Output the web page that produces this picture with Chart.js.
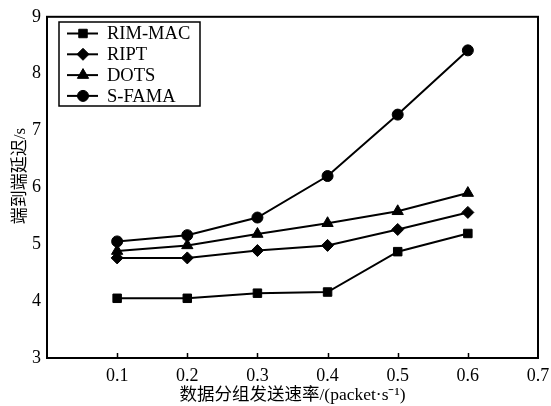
<!DOCTYPE html>
<html>
<head>
<meta charset="utf-8">
<script src="https://cdn.jsdelivr.net/npm/chart.js@4.4.1/dist/chart.umd.min.js"></script>
<style>
  html, body { margin: 0; padding: 0; background: #fff; }
  canvas { display: block; }
</style>
</head>
<body>
<canvas id="c" width="551" height="406"></canvas>
<script>
// Packet send rate (packet/s) on the x axis
const rates = [0.1, 0.2, 0.3, 0.4, 0.5, 0.6];

// End-to-end delay (s) per protocol
const rimMac = [4.05, 4.05, 4.14, 4.16, 4.87, 5.19];
const ript   = [4.76, 4.76, 4.89, 4.98, 5.26, 5.56];
const dots   = [4.88, 4.98, 5.18, 5.37, 5.58, 5.90];
const sFama  = [5.05, 5.16, 5.47, 6.20, 7.28, 8.41];

const seriesNames = ['RIM-MAC', 'RIPT', 'DOTS', 'S-FAMA'];
const seriesValues = [rimMac, ript, dots, sFama];
const markerStyles = ['rect', 'rectRot', 'triangle', 'circle'];
const markerSizes = [6, 6, 6.5, 5.5];

const xTitle = '数据分组发送速率/(packet·s⁻¹)';
const yTitle = '端到端延迟/s';

const serif = '"Liberation Serif", "Times New Roman", "Noto Sans CJK SC", serif';

const datasets = seriesNames.map((name, i) => ({
  label: name,
  data: rates.map((r, j) => ({ x: r, y: seriesValues[i][j] })),
  borderColor: '#000',
  backgroundColor: '#000',
  borderWidth: 2,
  pointStyle: markerStyles[i],
  pointRadius: markerSizes[i],
  pointBackgroundColor: '#000',
  pointBorderColor: '#000',
  pointBorderWidth: 1,
  tension: 0
}));

// Frame around the plot, inward x ticks, the y-axis title and the boxed legend
const framePlugin = {
  id: 'frame',
  afterDraw(chart) {
    const { ctx, chartArea: a, scales } = chart;
    ctx.save();
    ctx.strokeStyle = '#000';
    ctx.fillStyle = '#000';
    ctx.lineWidth = 2;
    ctx.strokeRect(a.left, a.top, a.right - a.left, a.bottom - a.top);

    // short tick marks pointing up from the bottom axis
    ctx.lineWidth = 1.5;
    rates.forEach(v => {
      const px = Math.round(scales.x.getPixelForValue(v)) + 0.5;
      ctx.beginPath();
      ctx.moveTo(px, a.bottom);
      ctx.lineTo(px, a.bottom - 5);
      ctx.stroke();
    });

    // y-axis title, rotated
    ctx.save();
    ctx.translate(21, 176);
    ctx.rotate(-Math.PI / 2);
    ctx.font = '17px ' + serif;
    ctx.textAlign = 'center';
    ctx.textBaseline = 'middle';
    ctx.fillText(yTitle, 0, 0);
    ctx.restore();

    // legend box
    const bx = 59, by = 22, bw = 141, bh = 84;
    ctx.lineWidth = 1.5;
    ctx.strokeRect(bx, by, bw, bh);
    ctx.font = '18.5px ' + serif;
    ctx.textBaseline = 'middle';
    ctx.textAlign = 'left';
    chart.data.datasets.forEach((ds, i) => {
      const y = 33.5 + i * 20.8;
      ctx.lineWidth = 2;
      ctx.beginPath();
      ctx.moveTo(67, y);
      ctx.lineTo(98, y);
      ctx.stroke();
      ctx.lineWidth = 1;
      Chart.helpers.drawPoint(ctx, {
        pointStyle: ds.pointStyle,
        radius: ds.pointRadius,
        rotation: 0,
        borderWidth: 1
      }, 83, y);
      ctx.fillText(ds.label, 107, y + 1);
    });
    ctx.restore();
  }
};

new Chart(document.getElementById('c'), {
  type: 'line',
  data: { datasets },
  options: {
    responsive: false,
    animation: false,
    layout: { padding: { top: 14, right: 0, left: 0, bottom: 0 } },
    plugins: {
      legend: { display: false },
      tooltip: { enabled: false }
    },
    scales: {
      x: {
        type: 'linear',
        min: 0,
        max: 0.7,
        grid: { display: false, drawTicks: false },
        border: { display: false },
        ticks: {
          stepSize: 0.1,
          padding: 7,
          color: '#000',
          font: { family: serif, size: 18 },
          callback: v => (Math.abs(v) < 1e-9 ? '' : v.toFixed(1))
        },
        title: {
          display: true,
          text: xTitle,
          color: '#000',
          font: { family: serif, size: 17.5 },
          padding: { top: 0, bottom: 0 }
        },
        afterFit(scale) {
          scale.height = 48;
          scale.paddingRight = 13;
        }
      },
      y: {
        type: 'linear',
        min: 3,
        max: 9,
        grid: { display: false, drawTicks: false },
        border: { display: false },
        ticks: {
          stepSize: 1,
          padding: 6,
          color: '#000',
          font: { family: serif, size: 18 }
        },
        afterFit(scale) { scale.width = 47; }
      }
    }
  },
  plugins: [framePlugin]
});
</script>
</body>
</html>
